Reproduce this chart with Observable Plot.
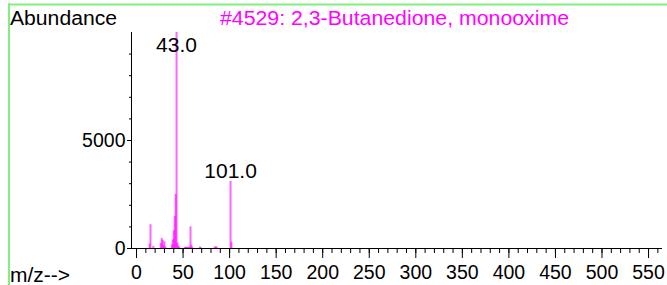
<!DOCTYPE html>
<html>
<head>
<meta charset="utf-8">
<script src="https://cdn.jsdelivr.net/npm/d3@7"></script>
<script src="https://cdn.jsdelivr.net/npm/@observablehq/plot@0.6"></script>
<style>
  html, body { margin: 0; padding: 0; background: #fff; }
  #chart { width: 667px; height: 285px; overflow: hidden; }
</style>
</head>
<body>
<div id="chart"></div>
<script>
// m/z values and relative abundances
const mz        = [14, 15, 18, 26, 27, 28, 29, 30, 31, 38, 39, 40, 41, 42, 43, 44, 45, 46, 52, 53, 54, 55, 56, 57, 58, 59, 60, 68, 69, 84, 85, 86, 101, 102];
const abundance = [200, 1100, 100, 230, 470, 380, 150, 310, 60, 170, 400, 820, 1480, 2500, 9999, 250, 120, 40, 50, 60, 50, 40, 60, 60, 1000, 150, 40, 70, 40, 80, 50, 80, 3100, 280];

const peakLabelsMz = [43, 101];
const peakLabelsText = ["43.0", "101.0"];

const xMajorTicks = [0, 50, 100, 150, 200, 250, 300, 350, 400, 450, 500, 550];
const xMinorTicks = d3.range(0, 561, 10);
const yMajorTicks = [0, 5000];
const yMinorTicks = d3.range(0, 9001, 1000);

const titleText = "#4529: 2,3-Butanedione, monooxime";
const yTitle = "Abundance";
const xTitle = "m/z-->";

const spectrum = mz.map((m, i) => ({mz: m, ab: abundance[i]}));
const labels = peakLabelsMz.map((m, i) => ({mz: m, ab: abundance[mz.indexOf(m)], text: peakLabelsText[i]}));

const xMin = -5.4, xMax = 565;
const magenta = "#ff00ff";

const plot = Plot.plot({
  width: 667,
  height: 285,
  marginLeft: 131,
  marginRight: 5,
  marginTop: 32,
  marginBottom: 37,
  x: {domain: [xMin, xMax], label: null, axis: null},
  y: {domain: [0, 10000], label: null, axis: null},
  style: {fontFamily: "'Liberation Sans', Arial, sans-serif", fontSize: "19px", background: "white", color: "black", overflow: "visible"},
  marks: [
    Plot.ruleX(spectrum, {x: "mz", y1: 0, y2: "ab", stroke: magenta, strokeOpacity: 0.6, strokeWidth: 2}),
    Plot.ruleY([0], {x1: xMin, x2: xMax, stroke: "black", strokeWidth: 1}),
    Plot.ruleX([xMin], {y1: 0, y2: 10000, stroke: "black", strokeWidth: 1}),
    Plot.axisX(xMinorTicks, {tickSize: 5, tickFormat: () => "", label: null, stroke: "black"}),
    Plot.axisX(xMajorTicks, {tickSize: 10, tickPadding: 7, tickFormat: d => String(d), label: null, stroke: "black", fill: "black", fontSize: 19.5}),
    Plot.axisY(yMinorTicks, {tickSize: 2, tickFormat: () => "", label: null, stroke: "black"}),
    Plot.axisY(yMajorTicks, {tickSize: 4, tickPadding: 2, tickFormat: d => String(d), label: null, stroke: "black", fill: "black", fontSize: 19.5}),
    Plot.text(labels.filter(d => d.mz === 43), {x: "mz", y: "ab", text: "text", lineAnchor: "bottom", dy: 19, fontSize: 21, fill: "black"}),
    Plot.text(labels.filter(d => d.mz === 101), {x: "mz", y: "ab", text: "text", lineAnchor: "bottom", dy: -4, fontSize: 21, fill: "black"})
  ]
});

document.getElementById("chart").appendChild(plot);

const svg = d3.select(plot);
// frame lines (light green)
svg.append("line").attr("x1", 8).attr("x2", 667).attr("y1", 4.5).attr("y2", 4.5).attr("stroke", "#80f080").attr("stroke-width", 2);
svg.append("line").attr("x1", 9).attr("x2", 9).attr("y1", 3.5).attr("y2", 285).attr("stroke", "#80f080").attr("stroke-width", 2);
// texts
const g = svg.append("g").attr("text-anchor", "start").attr("font-family", "'Liberation Sans', Arial, sans-serif");
g.append("text").attr("x", 10).attr("y", 25).attr("font-size", 20).attr("textLength", 107).attr("lengthAdjust", "spacingAndGlyphs").attr("fill", "black").text(yTitle);
g.append("text").attr("x", 220).attr("y", 25).attr("font-size", 20.5).attr("textLength", 349).attr("lengthAdjust", "spacingAndGlyphs").attr("fill", magenta).text(titleText);
g.append("text").attr("x", 10).attr("y", 282).attr("font-size", 20).attr("textLength", 60).attr("lengthAdjust", "spacingAndGlyphs").attr("fill", "black").text(xTitle);
</script>
</body>
</html>
